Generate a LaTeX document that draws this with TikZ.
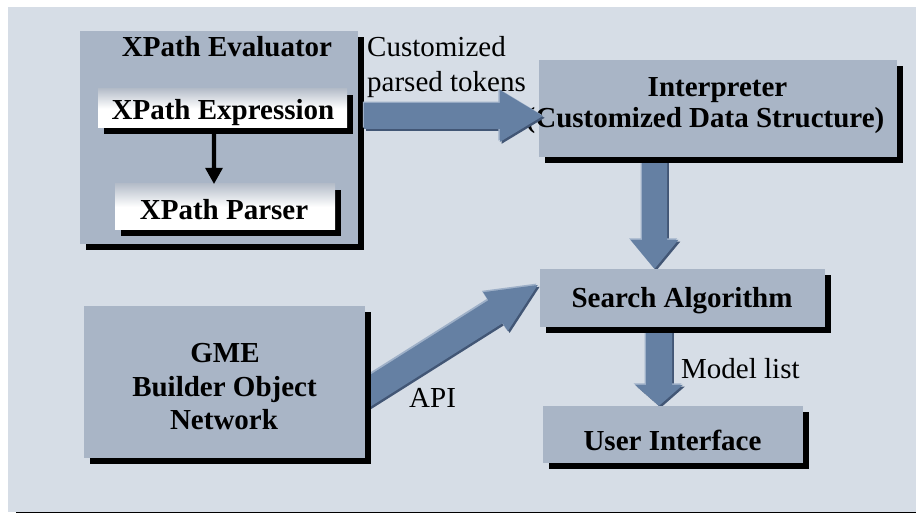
\documentclass[tikz,border=0pt]{standalone}
\usepackage{fontspec}
\setmainfont{Liberation Serif}
\usetikzlibrary{calc,shadows}
\definecolor{bgc}{RGB}{214,221,230}
\definecolor{boxc}{RGB}{169,181,198}
\definecolor{arrc}{RGB}{101,128,163}
\definecolor{arrlight}{RGB}{158,176,200}
\definecolor{arrdark}{RGB}{66,86,117}
\definecolor{shadec}{RGB}{182,190,202}
\pgfdeclarelayer{back}
\pgfdeclarelayer{mid}
\pgfsetlayers{back,mid,main}

\newcommand\baDef[3]{%
  \coordinate (ba-s) at (#1);
  \coordinate (ba-e) at (#2);
  \coordinate (ba-h) at ($(ba-e)!#3!(ba-s)$);}
\newcommand\baShape[3]{($(ba-s)!#2!90:(ba-e)+(#1)$) -- ($(ba-h)!#2!-90:(ba-s)+(#1)$) -- ($(ba-h)!#3!-90:(ba-s)+(#1)$) -- ($(ba-e)+(#1)$) -- ($(ba-h)!#3!90:(ba-s)+(#1)$) -- ($(ba-h)!#2!90:(ba-s)+(#1)$) -- ($(ba-s)!#2!-90:(ba-e)+(#1)$) -- cycle}
\newcommand\blockarrow[5]{\baDef{#1}{#2}{#5}%
  \fill[arrdark] \baShape{1.8pt,-1.8pt}{#3}{#4};
  \fill[arrlight] \baShape{-1.4pt,1.4pt}{#3}{#4};
  \fill[arrc] \baShape{0pt,0pt}{#3}{#4};}
\newcommand\plainarrow[5]{\baDef{#1}{#2}{#5}%
  \fill[black] \baShape{0pt,0pt}{#3}{#4};}

\tikzset{
  box/.style={draw=none, fill=boxc, inner sep=0pt,
    drop shadow={shadow xshift=6pt, shadow yshift=-6pt, fill=black, opacity=1}},
  wbox/.style={box, top color=shadec, bottom color=white, middle color=white},
  btxt/.style={font=\fontsize{29pt}{33pt}\selectfont\bfseries, inner sep=0pt, anchor=base},
  rtxt/.style={font=\fontsize{29pt}{34pt}\selectfont, inner sep=0pt, anchor=base west},
}

\begin{document}
\begin{tikzpicture}[x=1pt,y=-1pt]
\begin{pgfonlayer}{back}
  \fill[white] (0,0) rectangle (916,513);
  \fill[bgc] (8,7) rectangle (916,512);
\end{pgfonlayer}
\useasboundingbox (0,0) rectangle (916,513);
\draw[line width=1.2pt] (16,512.4) -- (916,512.4);

% boxes
\node[box, minimum width=278pt, minimum height=213pt] (eval) at (219,137.5) {};
\node[wbox, minimum width=249pt, minimum height=39pt] (expr) at (222.5,108.5) {};
\node[wbox, minimum width=220pt, minimum height=46pt] (parser) at (225,207) {};
\node[box, minimum width=358pt, minimum height=97pt] (interp) at (718,108.5) {};
\node[box, minimum width=285pt, minimum height=58pt] (search) at (682.5,298) {};
\node[box, minimum width=260pt, minimum height=57pt] (ui) at (673,434.5) {};
\node[box, minimum width=281pt, minimum height=152pt] (gme) at (224.5,382) {};

% box texts
\node[btxt] (evalt) at (227,57) {XPath Evaluator};
\node[btxt] (exprt) at (223,120) {XPath Expression};
\node[btxt] (parsert) at (224,220) {XPath Parser};
\node[btxt] (interpt1) at (717.5,97) {Interpreter};
\node[btxt] (interpt2) at (705,128) {(Customized Data Structure)};
\node[btxt] (searcht) at (682,307) {Search Algorithm};
\node[btxt] (uit) at (672.5,450) {User Interface};
\node[btxt] (gmet1) at (225,362) {GME};
\node[btxt] (gmet2) at (224.5,396) {Builder Object};
\node[btxt] (gmet3) at (224,429) {Network};

% connector labels
\node[rtxt] (lcust1) at (367,57) {Customized};
\node[rtxt] (lcust2) at (367,92) {parsed tokens};
\node[rtxt] (lapi) at (409,407) {API};
\node[rtxt] (lmodel) at (681,378) {Model list};

% arrows behind boxes
\begin{pgfonlayer}{mid}
  \blockarrow{$(interp.south)+(-63.5,0)$}{$(search.north)+(-28,0)$}{12.5pt}{24pt}{29pt}
  \blockarrow{$(search.south)+(-23.5,0)$}{$(ui.north)+(-14,0)$}{13pt}{24pt}{21pt}
  \blockarrow{$(gme.east)+(-8,17)$}{$(search.west)+(-2,-13)$}{13.5pt}{23pt}{50pt}
\end{pgfonlayer}

% arrows on top
\blockarrow{$(eval.east)+(6,-21.5)$}{$(interp.west)+(4,7.5)$}{13pt}{26pt}{43pt}
\plainarrow{$(expr.south)+(-8.5,0)$}{$(parser.north)+(-11,0)$}{2.2pt}{9pt}{16pt}
\end{tikzpicture}
\end{document}
